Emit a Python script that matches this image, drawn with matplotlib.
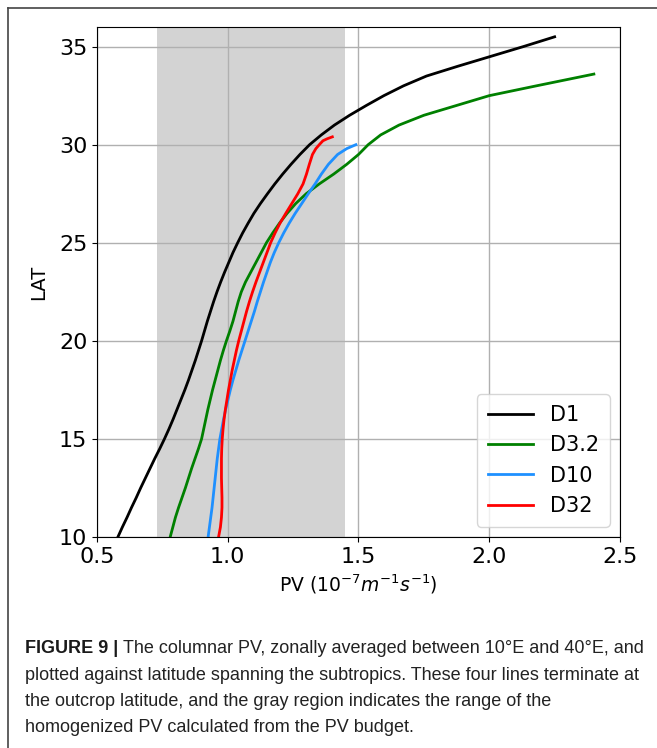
import matplotlib
matplotlib.use('Agg')
import matplotlib.pyplot as plt
from matplotlib.lines import Line2D

plt.rcParams['font.family'] = ['DejaVu Sans']

# Datos (latitud, PV)
lat_d1 = [10, 10.5, 11, 11.5, 12, 12.5, 13, 13.5, 14, 14.5, 15, 15.5, 16, 16.5, 17, 17.5, 18, 18.5, 19, 19.5,
          20, 20.5, 21, 21.5, 22, 22.5, 23, 23.5, 24, 24.5, 25, 25.5, 26, 26.5, 27, 27.5, 28, 28.5, 29, 29.5,
          30, 30.5, 31, 31.5, 32, 32.5, 33, 33.5, 34, 34.5, 35, 35.5]
pv_d1 = [0.58, 0.597, 0.615, 0.632, 0.65, 0.667, 0.685, 0.703, 0.721, 0.74, 0.758, 0.775, 0.791, 0.806, 0.821, 0.836, 0.85, 0.863, 0.876, 0.888,
         0.90, 0.911, 0.922, 0.934, 0.946, 0.959, 0.973, 0.988, 1.004, 1.02, 1.038, 1.057, 1.078, 1.10, 1.125, 1.152, 1.18, 1.21, 1.242, 1.276,
         1.313, 1.358, 1.408, 1.466, 1.53, 1.597, 1.672, 1.76, 1.88, 2.005, 2.13, 2.25]

lat_d3 = [10, 10.5, 11, 11.5, 12, 12.5, 13, 13.5, 14, 14.5, 15, 15.5, 16, 16.5, 17, 17.5, 18, 18.5, 19, 19.5,
          20, 20.5, 21, 21.5, 22, 22.5, 23, 23.5, 24, 24.5, 25, 25.5, 26, 26.5, 27, 27.5, 28, 28.5, 29, 29.5,
          30, 30.5, 31, 31.5, 32, 32.5, 33, 33.6]
pv_d3 = [0.78, 0.79, 0.80, 0.812, 0.825, 0.838, 0.85, 0.862, 0.875, 0.888, 0.90, 0.908, 0.916, 0.924, 0.933, 0.942, 0.952, 0.962, 0.972, 0.983,
         0.995, 1.008, 1.02, 1.03, 1.04, 1.052, 1.068, 1.088, 1.108, 1.128, 1.148, 1.172, 1.198, 1.227, 1.26, 1.30, 1.35, 1.405, 1.455, 1.50,
         1.537, 1.585, 1.655, 1.75, 1.875, 2.0, 2.18, 2.40]

lat_d10 = [10, 10.5, 11, 11.5, 12, 12.5, 13, 13.5, 14, 14.5, 15, 15.5, 16, 16.5, 17, 17.5, 18, 18.5, 19, 19.5,
           20, 20.5, 21, 21.5, 22, 22.5, 23, 23.5, 24, 24.5, 25, 25.5, 26, 26.5, 27, 27.5, 28, 28.5, 29, 29.5,
           29.8, 30]
pv_d10 = [0.925, 0.93, 0.935, 0.94, 0.944, 0.948, 0.952, 0.956, 0.96, 0.965, 0.97, 0.977, 0.984, 0.992, 1.001, 1.01, 1.02, 1.031, 1.042, 1.054,
          1.066, 1.078, 1.09, 1.102, 1.113, 1.125, 1.137, 1.15, 1.163, 1.178, 1.195, 1.214, 1.235, 1.258, 1.283, 1.308, 1.334, 1.358, 1.385, 1.42,
          1.455, 1.49]

lat_d32 = [10, 10.5, 11, 11.5, 12, 12.5, 13, 13.5, 14, 14.5, 15, 15.5, 16, 16.5, 17, 17.5, 18, 18.5, 19, 19.5,
           20, 20.5, 21, 21.5, 22, 22.5, 23, 23.5, 24, 24.5, 25, 25.5, 26, 26.5, 27, 27.5, 28, 28.5, 29, 29.5,
           29.8, 30, 30.2, 30.3, 30.4]
pv_d32 = [0.965, 0.972, 0.976, 0.978, 0.978, 0.977, 0.976, 0.976, 0.976, 0.977, 0.979, 0.982, 0.986, 0.991, 0.997, 1.003, 1.01, 1.017, 1.025, 1.033,
          1.042, 1.052, 1.062, 1.072, 1.083, 1.095, 1.108, 1.122, 1.136, 1.15, 1.164, 1.181, 1.2, 1.222, 1.245, 1.268, 1.288, 1.301, 1.312, 1.324,
          1.337, 1.35, 1.364, 1.38, 1.40]

# Rango del PV homogeneizado (region gris)
pv_hom = [0.73, 1.45]

series = [
    ('D1', pv_d1, lat_d1, 'black'),
    ('D3.2', pv_d3, lat_d3, 'green'),
    ('D10', pv_d10, lat_d10, 'dodgerblue'),
    ('D32', pv_d32, lat_d32, 'red'),
]

caption_bold = 'FIGURE 9 | '
caption_lines = [
    'The columnar PV, zonally averaged between 10°E and 40°E, and',
    'plotted against latitude spanning the subtropics. These four lines terminate at',
    'the outcrop latitude, and the gray region indicates the range of the',
    'homogenized PV calculated from the PV budget.',
]

fig = plt.figure(figsize=(6.57, 7.48), dpi=100)
ax = fig.add_axes([0.1476, 0.2821, 0.7961, 0.6818])

ax.axvspan(pv_hom[0], pv_hom[1], color='lightgray', lw=0)
for name, x, y, c in series:
    ax.plot(x, y, color=c, lw=2, label=name)

ax.set_xlim(0.5, 2.5)
ax.set_ylim(10, 36)
ax.set_xticks([0.5, 1.0, 1.5, 2.0, 2.5])
ax.set_yticks([10, 15, 20, 25, 30, 35])
ax.tick_params(labelsize=16)
ax.grid(True, color='#b0b0b0', lw=1.0)
ax.set_xlabel(r'PV ($10^{-7}m^{-1}s^{-1}$)', fontsize=13.5, labelpad=4)
ax.set_ylabel('LAT', fontsize=14, labelpad=8)
ax.legend(loc='lower right', fontsize=15, handlelength=2.2, borderpad=0.5)

# Pie de figura
cap_font = 'Liberation Sans'
y0 = 1 - 653 / 748
dy = 26.5 / 748
tb = fig.text(25 / 657, y0, caption_bold, fontsize=13, fontweight='bold',
              family=cap_font, color='#1a1a1a', va='baseline')
fig.canvas.draw()
bb = tb.get_window_extent()
x1 = bb.x1 / fig.bbox.width
for i, line in enumerate(caption_lines):
    xx = x1 if i == 0 else 25 / 657
    fig.text(xx, y0 - i * dy, line, fontsize=13, family=cap_font,
             color='#222222', va='baseline')

# Marco exterior
fig.add_artist(Line2D([8 / 657, 8 / 657], [0, 1 - 8 / 748], color='#444444', lw=1.2))
fig.add_artist(Line2D([8 / 657, 1], [1 - 8 / 748, 1 - 8 / 748], color='#444444', lw=1.2))

fig.savefig('out.png', dpi=100)
